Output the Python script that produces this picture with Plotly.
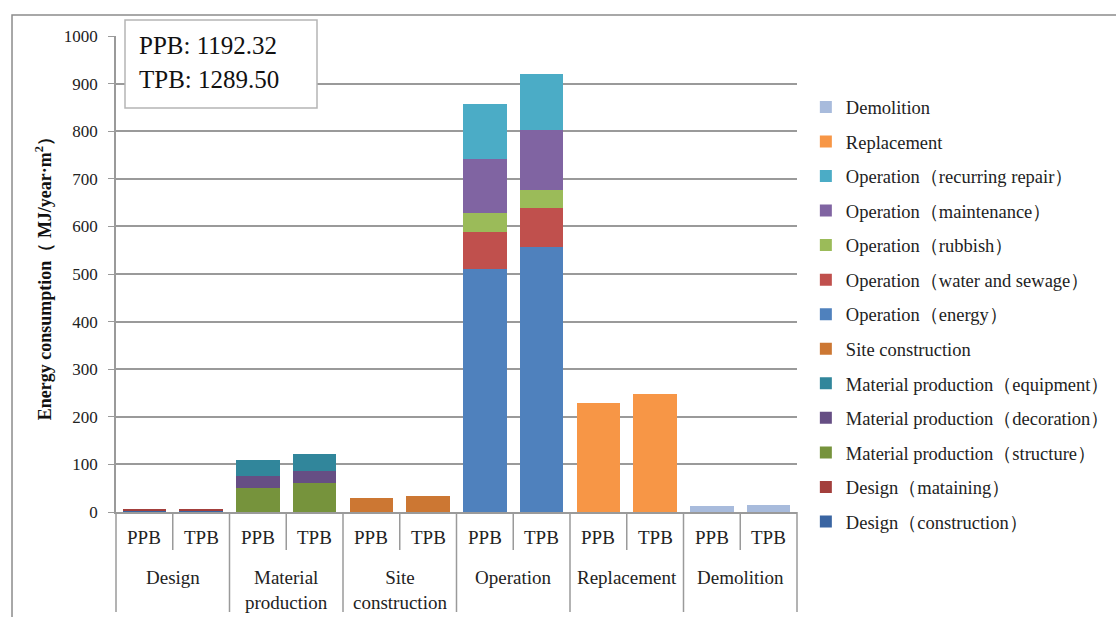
import plotly.graph_objects as go

# Life-cycle stages (outer axis level) and building types (inner level)
stages = ["Design", "Material production", "Site construction",
          "Operation", "Replacement", "Demolition"]
stage_labels = ["Design", "Material<br>production", "Site<br>construction",
                "Operation", "Replacement", "Demolition"]
buildings = ["PPB", "TPB"]

# Energy consumption per component, [PPB, TPB] within its stage (MJ/year·m²)
design_construction = [3, 3]
design_maintaining = [4, 4]
mp_structure = [50, 60]
mp_decoration = [26, 27]
mp_equipment = [33, 35]
site_construction = [30, 34]
op_energy = [510, 557]
op_water_sewage = [79, 81]
op_rubbish = [39, 38]
op_maintenance = [114, 126]
op_recurring_repair = [115, 119]
replacement = [228, 247]
demolition = [13, 15]

totals_text = ["PPB: 1192.32", "TPB: 1289.50"]

# (legend name, stage index, values, colour) in stacking order
series = [
    ("Design（construction）", 0, design_construction, "#3A65A2"),
    ("Design（mataining）", 0, design_maintaining, "#A33F3C"),
    ("Material production（structure）", 1, mp_structure, "#76933C"),
    ("Material production（decoration）", 1, mp_decoration, "#664E84"),
    ("Material production（equipment）", 1, mp_equipment, "#31869B"),
    ("Site construction", 2, site_construction, "#CC7733"),
    ("Operation（energy）", 3, op_energy, "#4F81BD"),
    ("Operation（water and sewage）", 3, op_water_sewage, "#C0504D"),
    ("Operation（rubbish）", 3, op_rubbish, "#9BBB59"),
    ("Operation（maintenance）", 3, op_maintenance, "#8064A2"),
    ("Operation（recurring repair）", 3, op_recurring_repair, "#4BACC6"),
    ("Replacement", 4, replacement, "#F79646"),
    ("Demolition", 5, demolition, "#A8BBDC"),
]

FONT = "Liberation Serif"
GRID = "#9A9A9A"
TXT = "#222222"

fig = go.Figure()

# Invisible trace fixing the order of all stage/building slots
all_x = [[s for s in stages for _ in buildings], buildings * len(stages)]
fig.add_trace(go.Bar(x=all_x, y=[0] * len(all_x), showlegend=False,
                     marker=dict(color="rgba(0,0,0,0)"), hoverinfo="skip"))

n = len(series)
for i, (name, stage_idx, vals, color) in enumerate(series):
    fig.add_trace(go.Bar(
        name=name,
        x=[[stages[stage_idx]] * 2, buildings],
        y=vals,
        marker=dict(color=color, line=dict(width=0)),
        legendgroup=f"g{i}",
        legendrank=n - i,
    ))

fig.update_xaxes(
    type="multicategory",
    range=[-0.5, 11.5],
    showline=True, linecolor=GRID, linewidth=1.5,
    showticklabels=False, showdividers=False, ticks="",
)
fig.update_yaxes(
    range=[0, 1000], dtick=100,
    showgrid=True, gridcolor=GRID, gridwidth=1.5,
    showline=True, linecolor=GRID, linewidth=1.5,
    ticks="outside", ticklen=6, tickcolor=GRID, ticklabelstandoff=7,
    tickfont=dict(family=FONT, size=17, color=TXT),
    title=dict(text="<b>Energy consumption（ MJ/year·m<sup>2</sup>）</b>",
               font=dict(family=FONT, size=18, color="#111"), standoff=8),
    zeroline=False,
)

fig.update_layout(
    barmode="stack",
    bargap=0.23,
    width=1116, height=617,
    margin=dict(l=116, r=319, t=36, b=105, autoexpand=False),
    plot_bgcolor="white", paper_bgcolor="white",
    font=dict(family=FONT, color=TXT),
    legend=dict(
        x=1.013, y=0.89, xanchor="left", yanchor="top",
        traceorder="grouped", tracegroupgap=7.5,
        font=dict(family=FONT, size=18.5, color=TXT),
        itemwidth=30, bgcolor="rgba(0,0,0,0)",
    ),
    showlegend=True,
)

# Two-level category labels below the plot with separators
n_slots = len(stages) * len(buildings)
axis_y0 = (512 - 612) / 476.0
inner_y0 = (512 - 550) / 476.0
for k in range(len(stages) + 1):
    fig.add_shape(type="line", xref="x domain", yref="paper",
                  x0=k / len(stages), x1=k / len(stages), y0=0, y1=axis_y0,
                  line=dict(color=GRID, width=1.5))
for k, s in enumerate(stage_labels):
    fig.add_shape(type="line", xref="x domain", yref="paper",
                  x0=(2 * k + 1) / n_slots, x1=(2 * k + 1) / n_slots,
                  y0=0, y1=inner_y0, line=dict(color=GRID, width=1.5))
    for j, b in enumerate(buildings):
        fig.add_annotation(xref="x domain", yref="paper",
                           x=(2 * k + j + 0.5) / n_slots, y=(512 - 537) / 476.0,
                           text=b, showarrow=False,
                           xanchor="center", yanchor="middle",
                           font=dict(family=FONT, size=19, color=TXT))
    two_line = "<br>" in s
    fig.add_annotation(xref="x domain", yref="paper",
                       x=(k + 0.5) / len(stages),
                       y=(512 - (589.5 if two_line else 577)) / 476.0,
                       text=s, showarrow=False,
                       xanchor="center", yanchor="middle",
                       font=dict(family=FONT, size=19, color=TXT))

# Total energy box in the upper-left corner
fig.add_shape(type="rect", xref="paper", yref="paper",
              x0=(125 - 116) / 681.0, x1=(317 - 116) / 681.0,
              y0=(512 - 108) / 476.0, y1=(512 - 20) / 476.0,
              line=dict(color="#B5B5B5", width=1.5), fillcolor="white", layer="above")
for k, t in enumerate(totals_text):
    fig.add_annotation(xref="paper", yref="paper", x=(137 - 116) / 681.0,
                       y=(512 - (45 + 34 * k)) / 476.0,
                       xanchor="left", yanchor="middle", showarrow=False,
                       text=t, font=dict(family=FONT, size=25, color="#111"))

# Outer chart border
fig.add_shape(type="rect", xref="paper", yref="paper",
              x0=-0.1527, x1=2.0, y0=-1.0, y1=1.044,
              line=dict(color="#8C8C8C", width=1.5), layer="below")

fig.write_html("out.html")
